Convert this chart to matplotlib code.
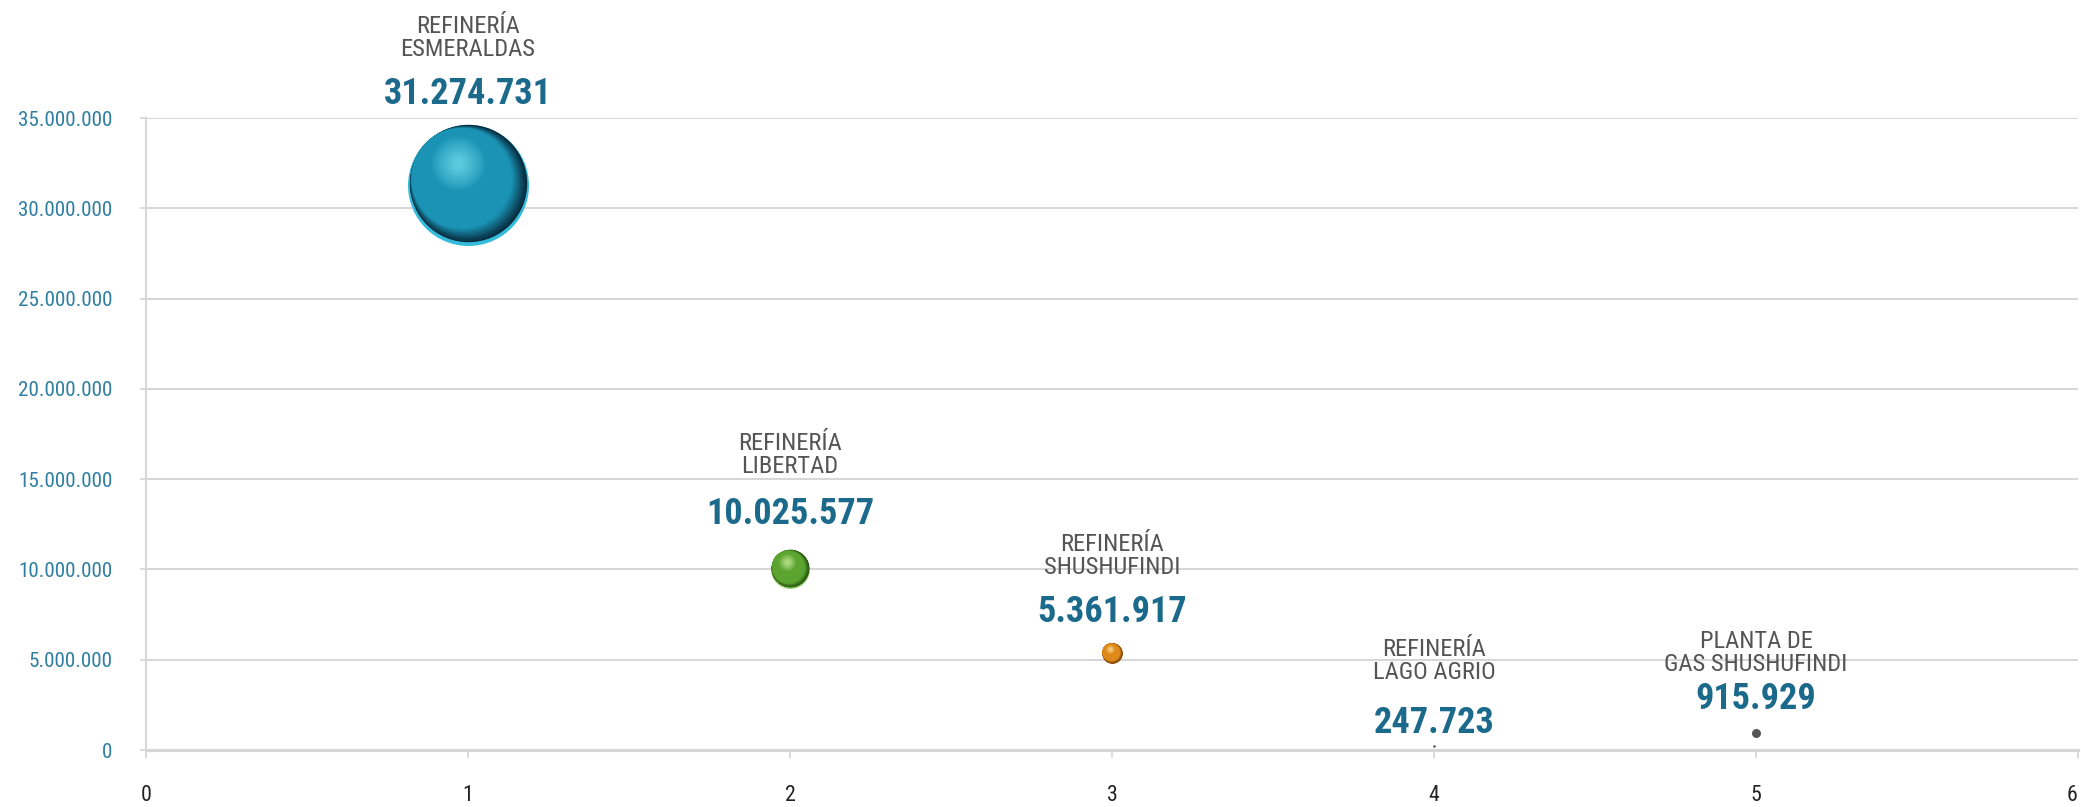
import matplotlib
matplotlib.use("Agg")
import matplotlib.pyplot as plt
from matplotlib.transforms import ScaledTranslation
from matplotlib.colors import LinearSegmentedColormap
from matplotlib.ticker import FuncFormatter
from matplotlib import font_manager as fm

# ---------------- data ----------------
names = ["REFINERÍA\nESMERALDAS", "REFINERÍA\nLIBERTAD", "REFINERÍA\nSHUSHUFINDI",
         "REFINERÍA\nLAGO AGRIO", "PLANTA DE\nGAS SHUSHUFINDI"]
x_pos = [1, 2, 3, 4, 5]
values = [31274731, 10025577, 5361917, 247723, 915929]
value_labels = ["31.274.731", "10.025.577", "5.361.917", "247.723", "915.929"]
y_ticks = [0, 5000000, 10000000, 15000000, 20000000, 25000000, 30000000, 35000000]
x_ticks = [0, 1, 2, 3, 4, 5, 6]

# ---------------- font choice (condensed sans if available) ----------------
avail = {f.name for f in fm.fontManager.ttflist}
prefs = ["Liberation Sans Narrow", "Nimbus Sans Narrow", "Arial Narrow", "Roboto Condensed",
         "Noto Sans Condensed", "Open Sans Condensed", "DejaVu Sans Condensed"]
FONT_NAME = next((p for p in prefs if p in avail), None)
STRETCH = "normal"
if FONT_NAME is None:
    cond = [f for f in fm.fontManager.ttflist
            if (isinstance(f.stretch, str) and "condensed" in f.stretch)
            or (isinstance(f.stretch, int) and f.stretch < 500)]
    if cond:
        FONT_NAME, STRETCH = cond[0].name, cond[0].stretch
    else:
        FONT_NAME = "Liberation Sans" if "Liberation Sans" in avail else "DejaVu Sans"
FONT = [FONT_NAME, "DejaVu Sans"]

# ---------------- layout / style ----------------
DPI = 100
name_off_px = [147, 114, 97, 84.5, 80.5]
value_off_px = [91, 55, 41, 22.5, 34.5]
R_MAX_PX = 60.5
MIN_R_PX = [0, 0, 0, 1.3, 4.5]
# (rim, dark, mid, light)
sphere_cols = [
    ("#34bcda", "#07283a", "#1a93b5", "#5ccbdf"),
    ("#8fcc62", "#244d10", "#5aa42f", "#b2dc84"),
    ("#f2ad48", "#6e3804", "#df891a", "#f9cc7e"),
    None,
    None,
]
dot_col = "#555555"
value_col = "#1b6a8c"
name_col = "#555555"
ytick_col = "#2f7fa2"
xtick_col = "#222222"
grid_col = "#d6d6d6"

fig = plt.figure(figsize=(2081 / DPI, 807 / DPI), dpi=DPI)
ax = fig.add_axes([146 / 2081, 1 - 750 / 807, (2078 - 146) / 2081, (750 - 118) / 807])
ax.set_xlim(0, 6)
ax.set_ylim(0, 35000000)
renderer = fig.canvas.get_renderer()
px2pt = 72.0 / DPI


def fit_size(sample, target_px, base, weight="normal", max_size=None):
    t = fig.text(0, 0, sample, fontsize=base, family=FONT, stretch=STRETCH, fontweight=weight)
    w = t.get_window_extent(renderer).width
    t.remove()
    s = base * target_px / w
    return min(s, max_size) if max_size else s


NAME_FS = fit_size("REFINERÍA", 104, 16, max_size=19)
VALUE_FS = fit_size("10.025.577", 168, 28, weight="bold", max_size=31)
TICK_FS = fit_size("35.000.000", 95, 16, max_size=18.5)


def offset_tr(dx_pt, dy_pt):
    return ax.transData + ScaledTranslation(dx_pt / 72.0, dy_pt / 72.0, fig.dpi_scale_trans)


def disc(x, y, r_pt, color, dx, dy, z):
    ax.scatter([x], [y], s=(2 * r_pt) ** 2, c=[color], linewidths=0,
               transform=offset_tr(dx, dy), zorder=z, clip_on=False)


def draw_sphere(x, y, r_pt, cols, z=5.0):
    rim, dark, mid, light = cols
    disc(x, y, r_pt, rim, 0, 0, z)
    # shading stack: dark on lower right, fading to mid towards upper left
    shade = LinearSegmentedColormap.from_list("a", [(0, dark), (0.35, mid), (1, mid)])
    NA = 40
    c1 = (-0.30, 0.26)
    mag = (c1[0] ** 2 + c1[1] ** 2) ** 0.5
    for i in range(NA):
        t = i / (NA - 1)
        rad = (0.97 - mag * t) * r_pt
        dx = c1[0] * t * r_pt
        dy = (0.03 + c1[1] * t) * r_pt
        disc(x, y, rad, shade(t), dx, dy, z + 0.001 * (i + 1))
    # highlight stack
    hl = LinearSegmentedColormap.from_list("b", [(0, mid), (1, light)])
    NB = 30
    h = (-0.17, 0.36)
    for j in range(NB):
        t = j / (NB - 1)
        rad = (0.46 - 0.40 * t) * r_pt
        disc(x, y, rad, hl(t ** 0.8), h[0] * r_pt, h[1] * r_pt, z + 0.1 + 0.001 * (j + 1))


vmax = max(values)
for i, (xv, yv) in enumerate(zip(x_pos, values)):
    r_px = max(yv / vmax * R_MAX_PX, MIN_R_PX[i])
    r_pt = r_px * px2pt
    if sphere_cols[i] is not None:
        draw_sphere(xv, yv, r_pt, sphere_cols[i])
    else:
        ax.scatter([xv], [yv], s=(2 * r_pt) ** 2, c=[dot_col], linewidths=0, zorder=5, clip_on=False)
    ax.annotate(names[i], xy=(xv, yv), xytext=(0, name_off_px[i] * px2pt),
                textcoords="offset points", ha="center", va="center",
                fontsize=NAME_FS, color=name_col, family=FONT, stretch=STRETCH, linespacing=1.0,
                annotation_clip=False, zorder=10)
    ax.annotate(value_labels[i], xy=(xv, yv), xytext=(0, value_off_px[i] * px2pt),
                textcoords="offset points", ha="center", va="center",
                fontsize=VALUE_FS, fontweight="bold", color=value_col, family=FONT, stretch=STRETCH,
                annotation_clip=False, zorder=10)

ax.set_yticks(y_ticks)
ax.set_xticks(x_ticks)
ax.yaxis.set_major_formatter(FuncFormatter(lambda v, p: f"{int(v):,}".replace(",", ".")))
ax.grid(axis="y", color=grid_col, linewidth=1.4, zorder=0)
ax.set_axisbelow(True)
for s in ["top", "right"]:
    ax.spines[s].set_visible(False)
ax.spines["left"].set_color(grid_col)
ax.spines["left"].set_linewidth(1.4)
ax.spines["bottom"].set_color(grid_col)
ax.spines["bottom"].set_linewidth(2.2)
ax.tick_params(axis="y", length=4, width=1.2, color=grid_col, pad=20, labelsize=TICK_FS,
               labelcolor=ytick_col)
ax.tick_params(axis="x", length=6, width=1.2, color=grid_col, pad=19, labelsize=TICK_FS + 0.5,
               labelcolor=xtick_col)
for lab in ax.get_xticklabels() + ax.get_yticklabels():
    lab.set_family(FONT)
    lab.set_stretch(STRETCH)
ax.get_xticklabels()[-1].set_horizontalalignment("right")

fig.savefig("out.png", dpi=DPI)
